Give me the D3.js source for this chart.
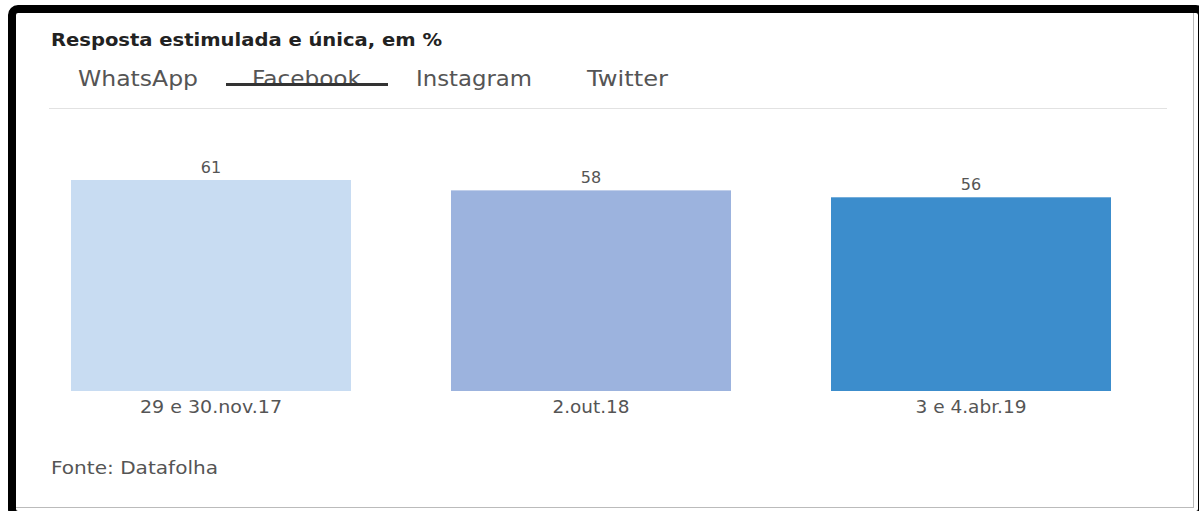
<!DOCTYPE html>
<html>
<head>
<meta charset="utf-8">
<script src="https://cdn.jsdelivr.net/npm/d3@7"></script>
<style>
  html, body { margin: 0; padding: 0; background: #fff; }
  svg { display: block; }
  text { font-family: "DejaVu Sans", "Open Sans", sans-serif; }
</style>
</head>
<body>
<svg id="chart" width="1199" height="511"></svg>
<script>
const title = "Resposta estimulada e única, em %";
const tabs = ["WhatsApp", "Facebook", "Instagram", "Twitter"];
const activeTab = "Facebook";
const categories = ["29 e 30.nov.17", "2.out.18", "3 e 4.abr.19"];
const values = [61, 58, 56];
const colors = ["#c8dcf2", "#9cb3de", "#3c8dcc"];
const source = "Fonte: Datafolha";

const svg = d3.select("#chart");

// frame
svg.append("rect").attr("x", 12).attr("y", 9).attr("width", 1190).attr("height", 506)
  .attr("rx", 6).attr("fill", "#fff").attr("stroke", "#000").attr("stroke-width", 8);
svg.append("line").attr("x1", 1193.5).attr("x2", 1193.5).attr("y1", 13).attr("y2", 508)
  .attr("stroke", "#bbb").attr("stroke-width", 1);
svg.append("line").attr("x1", 16).attr("x2", 1194).attr("y1", 507.5).attr("y2", 507.5)
  .attr("stroke", "#bbb").attr("stroke-width", 1);

// title
svg.append("text").attr("x", 51).attr("y", 46).text(title)
  .attr("font-size", 18).attr("font-weight", 700).attr("fill", "#222")
  .attr("textLength", 391).attr("lengthAdjust", "spacingAndGlyphs");

// tabs
const tabX = [78, 252, 416, 587];
const tabW = [120, 109, 116, 81];
const tabG = svg.append("g");
tabs.forEach((t, i) => {
  tabG.append("text").attr("x", tabX[i]).attr("y", 86).text(t)
    .attr("font-size", 21).attr("fill", "#555")
    .attr("textLength", tabW[i]).attr("lengthAdjust", "spacingAndGlyphs");
});
tabG.append("line").attr("x1", 226).attr("x2", 388).attr("y1", 84.5).attr("y2", 84.5)
  .attr("stroke", "#333").attr("stroke-width", 3);

// divider
svg.append("line").attr("x1", 49).attr("x2", 1167).attr("y1", 108.5).attr("y2", 108.5)
  .attr("stroke", "#e2e2e2").attr("stroke-width", 1);

// scales
const x = d3.scaleBand().domain(categories).range([51, 1131])
  .paddingInner(100 / 380).paddingOuter(20 / 380);
const y = d3.scaleLinear().domain([0, 61]).range([391, 180]);

const bars = svg.append("g");
bars.selectAll("rect").data(categories).join("rect")
  .attr("x", d => x(d)).attr("width", x.bandwidth())
  .attr("y", (d, i) => y(values[i])).attr("height", (d, i) => y(0) - y(values[i]))
  .attr("fill", (d, i) => colors[i]);

bars.selectAll("text.val").data(categories).join("text").attr("class", "val")
  .attr("x", d => x(d) + x.bandwidth() / 2)
  .attr("y", (d, i) => y(values[i]) - 7)
  .attr("text-anchor", "middle").attr("font-size", 16).attr("fill", "#555")
  .text((d, i) => values[i]);

// x axis labels
const catW = [142, 77, 111];
const xAxis = d3.axisBottom(x).tickSize(0).tickPadding(10);
const ax = svg.append("g").attr("transform", `translate(0,${y(0)})`).call(xAxis);
ax.select(".domain").remove();
ax.selectAll("text").attr("font-size", 17).attr("fill", "#555")
  .attr("font-family", "\"DejaVu Sans\", sans-serif")
  .attr("textLength", (d, i) => catW[i]).attr("lengthAdjust", "spacingAndGlyphs");

// source
svg.append("text").attr("x", 51).attr("y", 474).text(source)
  .attr("font-size", 17).attr("fill", "#555")
  .attr("textLength", 167).attr("lengthAdjust", "spacingAndGlyphs");
</script>
</body>
</html>
